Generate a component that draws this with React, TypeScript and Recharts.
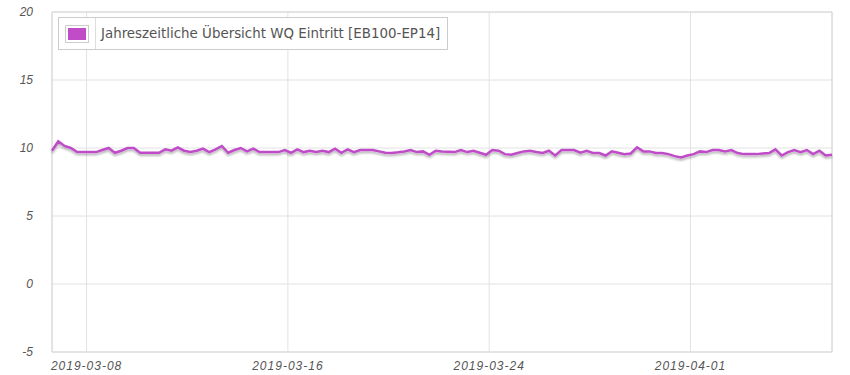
import {
  LineChart,
  Line,
  XAxis,
  YAxis,
  CartesianGrid,
  ReferenceArea,
} from "recharts";

const SERIES_NAME = "Jahreszeitliche Übersicht WQ Eintritt [EB100-EP14]";
const SERIES_COLOR = "#c04cc8";

// samples every 6 hours, first one at 2019-03-06 15:00
const START = Date.UTC(2019, 2, 6, 15);
const STEP = 6 * 3600 * 1000;

const values = [
  9.8, 10.5, 10.15, 10.0, 9.7, 9.7, 9.7, 9.7, 9.85, 10.0,
  9.65, 9.8, 10.0, 10.0, 9.65, 9.65, 9.65, 9.65, 9.9, 9.8,
  10.05, 9.8, 9.7, 9.8, 9.95, 9.7, 9.9, 10.15, 9.65, 9.85,
  10.0, 9.75, 9.95, 9.7, 9.7, 9.7, 9.7, 9.85, 9.65, 9.9,
  9.7, 9.8, 9.7, 9.8, 9.7, 9.95, 9.65, 9.9, 9.7, 9.85,
  9.85, 9.85, 9.75, 9.65, 9.63, 9.68, 9.75, 9.85, 9.7, 9.75,
  9.5, 9.8, 9.75, 9.72, 9.7, 9.85, 9.7, 9.8, 9.65, 9.5,
  9.85, 9.8, 9.55, 9.5, 9.63, 9.75, 9.8, 9.7, 9.63, 9.8,
  9.45, 9.85, 9.85, 9.85, 9.65, 9.8, 9.63, 9.63, 9.45, 9.75,
  9.65, 9.55, 9.6, 10.05, 9.75, 9.75, 9.63, 9.63, 9.55, 9.4,
  9.3, 9.45, 9.55, 9.75, 9.7, 9.85, 9.85, 9.75, 9.85, 9.63,
  9.55, 9.55, 9.55, 9.6, 9.63, 9.9, 9.45, 9.7, 9.85, 9.7,
  9.85, 9.55, 9.8, 9.45, 9.5,
];

const xTicks = ["2019-03-08", "2019-03-16", "2019-03-24", "2019-04-01"];
const yTicks = [-5, 0, 5, 10, 15, 20];

const data = values.map((v, i) => ({ t: START + i * STEP, value: v }));

function toTime(label: string): number {
  const [y, m, d] = label.split("-").map(Number);
  return Date.UTC(y, m - 1, d);
}

function formatDate(t: number): string {
  const d = new Date(t);
  const mm = String(d.getUTCMonth() + 1).padStart(2, "0");
  const dd = String(d.getUTCDate()).padStart(2, "0");
  return `${d.getUTCFullYear()}-${mm}-${dd}`;
}

const tickFont = {
  fill: "#555",
  fontStyle: "italic",
  fontFamily: "'Liberation Sans', Arial, sans-serif",
};

function LegendBox() {
  return (
    <div
      style={{
        position: "absolute",
        left: 58,
        top: 17,
        width: 390,
        display: "flex",
        alignItems: "stretch",
        border: "1px solid #ccc",
        background: "rgba(255,255,255,0.9)",
        height: 33,
        boxSizing: "border-box",
        fontFamily: "'DejaVu Sans', Verdana, sans-serif",
        fontSize: 13.4,
        color: "#545454",
      }}
    >
      <div
        style={{
          width: 37,
          display: "flex",
          alignItems: "center",
          paddingLeft: 6,
          boxSizing: "border-box",
          borderRight: "1px solid #ddd",
        }}
      >
        <div style={{ border: "1px solid #ccc", padding: 2, lineHeight: 0 }}>
          <div style={{ width: 18, height: 12, background: SERIES_COLOR }} />
        </div>
      </div>
      <div
        style={{
          display: "flex",
          alignItems: "center",
          paddingLeft: 5,
          whiteSpace: "nowrap",
        }}
      >
        {SERIES_NAME}
      </div>
    </div>
  );
}

export default function App() {
  return (
    <div style={{ position: "absolute", left: 0, top: 0, width: 850, height: 375 }}>
      <LineChart
        width={850}
        height={375}
        data={data}
        margin={{ top: 12, right: 18, left: 0, bottom: 0 }}
      >
        <defs>
          <filter id="lineShadow" x="-5%" y="-100%" width="110%" height="300%">
            <feDropShadow dx="0" dy="2" stdDeviation="1.2" floodColor="#000" floodOpacity="0.3" />
          </filter>
        </defs>
        <CartesianGrid stroke="#e2e2e2" strokeWidth={1} />
        <ReferenceArea y1={-5} y2={20} fill="none" stroke="#d6d6d6" strokeWidth={1} />
        <XAxis
          dataKey="t"
          type="number"
          scale="time"
          domain={["dataMin", "dataMax"]}
          ticks={xTicks.map(toTime)}
          tickFormatter={formatDate}
          tick={{ ...tickFont, fontSize: 12, letterSpacing: 1 }}
          axisLine={false}
          tickLine={false}
          tickSize={0}
          tickMargin={9}
          height={23}
        />
        <YAxis
          domain={[-5, 20]}
          ticks={yTicks}
          tick={{ ...tickFont, fontSize: 12 }}
          axisLine={false}
          tickLine={false}
          tickSize={0}
          tickMargin={19}
          width={52}
        />
        <Line
          type="linear"
          dataKey="value"
          name={SERIES_NAME}
          stroke={SERIES_COLOR}
          strokeWidth={2.5}
          dot={false}
          activeDot={false}
          filter="url(#lineShadow)"
          isAnimationActive={false}
        />
      </LineChart>
      <LegendBox />
    </div>
  );
}
